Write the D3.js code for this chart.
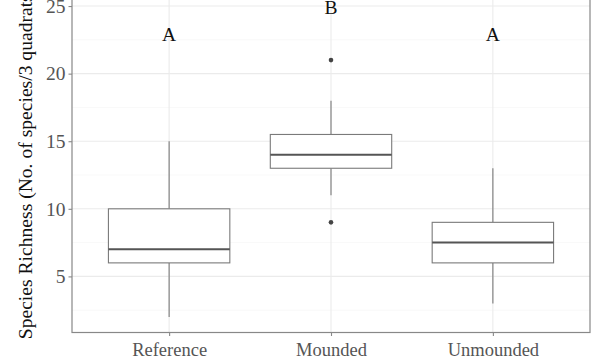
<!DOCTYPE html>
<html><head><meta charset="utf-8">
<script src="https://cdn.jsdelivr.net/npm/d3@7"></script>
<style>body{margin:0;background:#fff}svg{display:block}</style>
</head><body>
<svg id="c" width="600" height="360"></svg>
<script>
const categories = ["Reference", "Mounded", "Unmounded"];
const whiskerLow = [2, 11, 3];
const q1 = [6, 13, 6];
const medians = [7, 14, 7.5];
const q3 = [10, 15.5, 9];
const whiskerHigh = [15, 18, 13];
const outliers = [[], [21, 9], []];
const letters = ["A", "B", "A"];
const letterY = [23, 25, 23];
const yTicks = [5, 10, 15, 20, 25];
const yMinor = [2.5, 7.5, 12.5, 17.5, 22.5];
const yTitle = "Species Richness (No. of species/3 quadrats)";

const svg = d3.select("#c");
const L = 72, R = 590, B = 332.5, T = -9.5;
// discrete axis expansion 0.6 on each side
const step = (R - L) / (categories.length - 1 + 1.2);
const x = d3.scalePoint().domain(categories).range([L + 0.6 * step, R - 0.6 * step]);
const xc = c => x(c);
const y = d3.scaleLinear().domain([0.85, 26.15]).range([B, T]);
const font = "'Liberation Serif','Times New Roman',serif";

// grid
svg.append("g").selectAll("line.minor").data(yMinor).join("line")
  .attr("x1", L).attr("x2", R).attr("y1", d => y(d)).attr("y2", d => y(d))
  .attr("stroke", "#f4f4f4").attr("stroke-width", 0.6);
svg.append("g").selectAll("line.major").data(yTicks).join("line")
  .attr("x1", L).attr("x2", R).attr("y1", d => y(d)).attr("y2", d => y(d))
  .attr("stroke", "#ebebeb").attr("stroke-width", 1.1);
svg.append("g").selectAll("line.xg").data(categories).join("line")
  .attr("x1", d => xc(d)).attr("x2", d => xc(d)).attr("y1", B).attr("y2", T)
  .attr("stroke", "#ebebeb").attr("stroke-width", 1.1);

// boxes
const bw = step * 0.75;
const g = svg.append("g");
categories.forEach((c, i) => {
  const cx = xc(c);
  g.append("line").attr("x1", cx).attr("x2", cx).attr("y1", y(q3[i])).attr("y2", y(whiskerHigh[i]))
    .attr("stroke", "#7a7a7a").attr("stroke-width", 1.1);
  g.append("line").attr("x1", cx).attr("x2", cx).attr("y1", y(q1[i])).attr("y2", y(whiskerLow[i]))
    .attr("stroke", "#7a7a7a").attr("stroke-width", 1.1);
  g.append("rect").attr("x", cx - bw / 2).attr("width", bw)
    .attr("y", y(q3[i])).attr("height", y(q1[i]) - y(q3[i]))
    .attr("fill", "#fff").attr("stroke", "#7a7a7a").attr("stroke-width", 1.1);
  g.append("line").attr("x1", cx - bw / 2).attr("x2", cx + bw / 2)
    .attr("y1", y(medians[i])).attr("y2", y(medians[i]))
    .attr("stroke", "#555").attr("stroke-width", 2);
  outliers[i].forEach(o => {
    g.append("circle").attr("cx", cx).attr("cy", y(o)).attr("r", 2.3).attr("fill", "#444");
  });
  g.append("text").attr("x", cx).attr("y", y(letterY[i]) + 8)
    .attr("text-anchor", "middle").attr("font-family", font).attr("font-size", 19.5)
    .attr("fill", "#111").text(letters[i]);
});

// border
svg.append("rect").attr("x", L).attr("y", T).attr("width", R - L).attr("height", B - T)
  .attr("fill", "none").attr("stroke", "#888").attr("stroke-width", 1.2);

// axes
const yAxis = svg.append("g").attr("transform", `translate(${L},0)`)
  .call(d3.axisLeft(y).tickValues(yTicks).tickSize(3.5).tickPadding(3));
const xAxis = svg.append("g").attr("transform", `translate(0,${B})`)
  .call(d3.axisBottom(x).tickSize(3.5).tickPadding(3));
[yAxis, xAxis].forEach(a => {
  a.select(".domain").remove();
  a.selectAll(".tick line").attr("stroke", "#888").attr("stroke-width", 1.1);
  a.selectAll(".tick text").attr("font-family", font).attr("font-size", 18.5).attr("fill", "#555");
});
xAxis.selectAll(".tick text").attr("dy", "0.9em");
yAxis.selectAll(".tick text").attr("font-size", 19.5);

svg.append("text")
  .attr("transform", `translate(32,${(B + T) / 2 + 2}) rotate(-90)`)
  .attr("text-anchor", "middle").attr("font-family", font).attr("font-size", 19.6)
  .attr("fill", "#111").text(yTitle);
</script>
</body></html>
